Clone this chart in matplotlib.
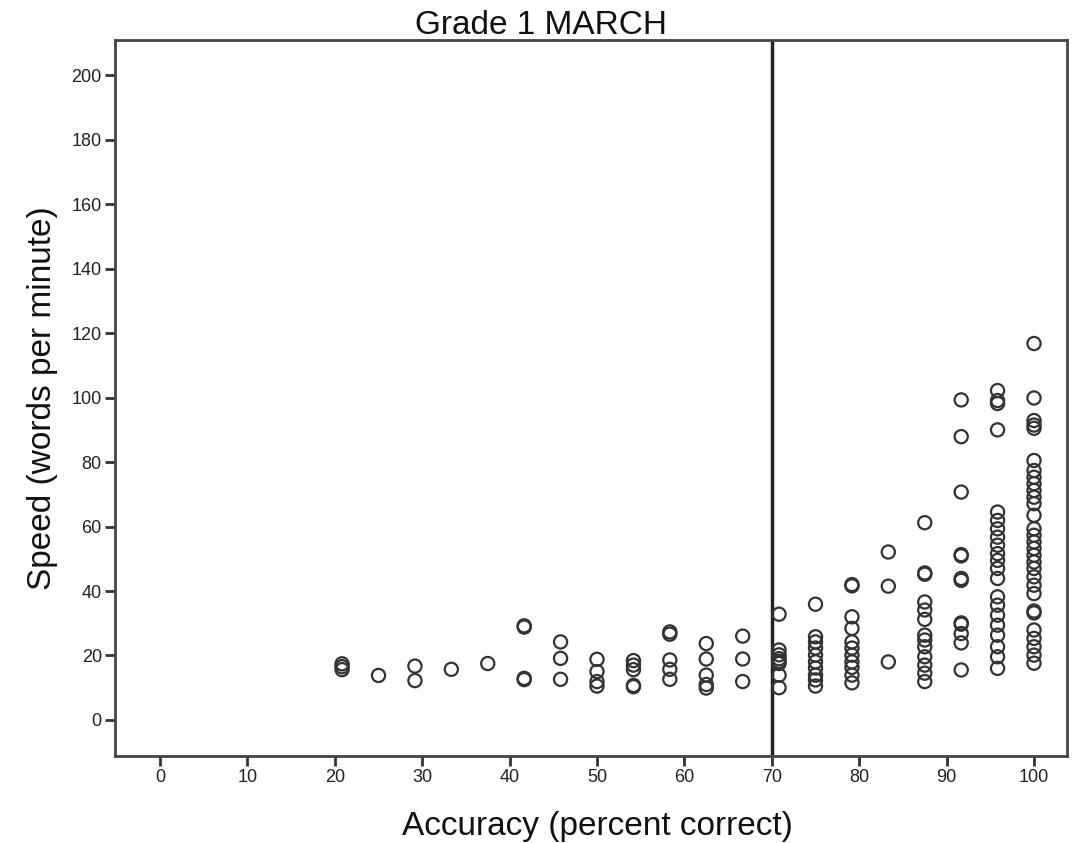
import numpy as np
import matplotlib
matplotlib.use("Agg")
import matplotlib.pyplot as plt

plt.rcParams['font.family'] = ['Liberation Sans', 'DejaVu Sans']

# accuracy levels (percent of 24 words correct) and the speeds observed at each
accuracy_levels = [20.83, 25.0, 29.17, 33.33, 37.5, 41.67, 45.83, 50.0, 54.17, 58.33,
                   62.5, 66.67, 70.83, 75.0, 79.17, 83.33, 87.5, 91.67, 95.83, 100.0]
speeds = [
    [17.4, 16.5, 15.6],
    [13.8],
    [16.7, 12.2],
    [15.7],
    [17.5],
    [29.2, 28.8, 12.9, 12.5],
    [24.2, 19.1, 12.6],
    [18.8, 15.0, 11.9, 10.5],
    [18.4, 17.0, 15.6, 10.7, 10.3],
    [27.3, 26.6, 18.6, 15.7, 12.6],
    [23.7, 18.9, 13.9, 11.0, 9.9],
    [26.0, 18.9, 11.9],
    [32.8, 21.7, 20.2, 19.0, 18.2, 17.5, 13.9, 10.0],
    [35.9, 25.8, 24.2, 22.3, 20.1, 18.0, 16.1, 13.9, 12.4, 10.5],
    [42.0, 41.6, 32.0, 28.4, 24.2, 22.3, 20.1, 18.0, 16.3, 13.9, 11.5],
    [52.1, 41.5, 18.0],
    [61.2, 45.6, 45.2, 36.6, 34.1, 31.2, 26.3, 24.8, 22.7, 19.6, 17.0, 14.5, 11.9],
    [99.3, 87.9, 70.7, 51.3, 50.9, 43.9, 43.3, 30.1, 29.7, 26.8, 23.9, 15.5],
    [102.2, 99.1, 98.2, 90.0, 64.5, 61.9, 59.3, 56.7, 54.2, 51.6, 49.5, 47.0, 43.9,
     38.2, 35.6, 32.5, 29.4, 26.3, 22.7, 19.6, 16.0],
    [116.8, 99.9, 92.9, 91.5, 90.5, 80.5, 77.4, 75.3, 73.3, 71.2, 69.1, 67.1, 63.5,
     59.3, 57.3, 55.2, 53.2, 51.1, 49.0, 47.0, 44.4, 41.8, 39.2, 33.8, 33.2, 27.9,
     25.3, 22.7, 20.1, 17.6],
]
cutoff = 70
x_ticks = list(range(0, 101, 10))
y_ticks = list(range(0, 201, 20))

xs = np.concatenate([[a] * len(s) for a, s in zip(accuracy_levels, speeds)])
ys = np.concatenate(speeds)

fig = plt.figure(figsize=(10.89, 8.43), dpi=100)
ax = fig.add_axes([0.1056, 0.1032, 0.8744, 0.8494])

ax.scatter(xs, ys, s=90, facecolors='none', edgecolors='#333333', linewidths=1.6, zorder=3)
ax.axvline(cutoff, color='#222222', linewidth=2.5, zorder=2)

ax.set_xlim(-5.15, 103.8)
ax.set_ylim(-11.2, 211)
ax.set_xticks(x_ticks)
ax.set_yticks(y_ticks)
ax.tick_params(direction='out', length=7.5, width=2, color='#333333', pad=2,
               labelsize=13, labelcolor='#222222')
for sp in ax.spines.values():
    sp.set_linewidth(2)
    sp.set_color('#444444')

# title and x label sit a little off the axes centre in the original
fig.text(541 / 1089, 1 - 34 / 843, 'Grade 1 MARCH', fontsize=24,
         ha='center', va='baseline', color='#111111')
fig.text(597.5 / 1089, 1 - 835 / 843, 'Accuracy (percent correct)', fontsize=24,
         ha='center', va='baseline', color='#111111')
ax.set_ylabel('Speed (words per minute)', fontsize=24, labelpad=10, color='#111111')

fig.savefig('out.png', dpi=100)
